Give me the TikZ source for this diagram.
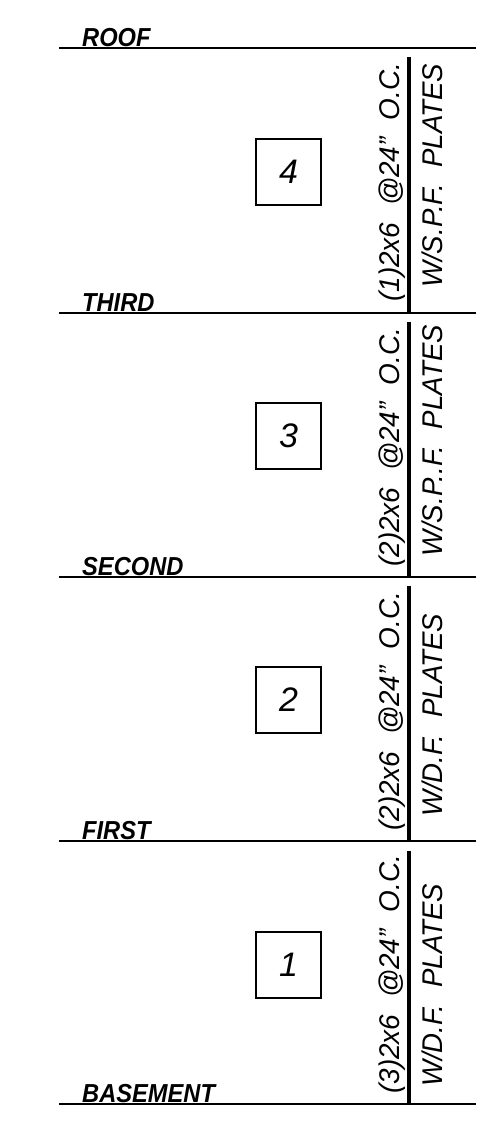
\documentclass[tikz,border=0pt]{standalone}
\usepackage{fontspec}
\setmainfont{Liberation Sans}
\begin{document}
\begin{tikzpicture}[x=1pt,y=-1pt,
  floorline/.style={line width=1.5pt},
  floorlabel/.style={anchor=base west,inner sep=0pt,font=\fontsize{26}{26}\selectfont\bfseries\itshape},
  stud/.style={line width=4pt},
  spectext/.style={anchor=base west,inner sep=0pt,rotate=90,font=\fontsize{28.5}{28.5}\selectfont\itshape},
  numbox/.style={draw,line width=2pt,minimum width=65pt,minimum height=66pt,inner sep=0pt,font=\fontsize{34}{34}\selectfont\itshape}]
\useasboundingbox (0,0) rectangle (486,1130);
% floor lines
\foreach \n/\y in {roof/48,third/313,second/577,first/841,basement/1104}{
  \coordinate (\n L) at (59,\y);
  \coordinate (\n R) at (476,\y);
  \draw[floorline] (\n L) -- (\n R);
}
\node[floorlabel] (lroof) at (82,46) {\scalebox{0.91}[1]{ROOF}};
\node[floorlabel] (lthird) at (82,311) {\scalebox{0.91}[1]{THIRD}};
\node[floorlabel] (lsecond) at (82,575) {\scalebox{0.91}[1]{SECOND}};
\node[floorlabel] (lfirst) at (82,839) {\scalebox{0.91}[1]{FIRST}};
\node[floorlabel] (lbasement) at (82,1102) {\scalebox{0.91}[1]{BASEMENT}};
% studs
\foreach \n/\a/\b in {s4/57/313,s3/322/577,s2/586/841,s1/851/1104}{
  \coordinate (\n t) at (409,\a);
  \coordinate (\n b) at (409,\b);
  \draw[stud] (\n t) -- (\n b);
}
% boxes
\node[numbox] (b4) at (288.5,172) {4};
\node[numbox] (b3) at (288.5,436) {3};
\node[numbox] (b2) at (288.5,700) {2};
\node[numbox] (b1) at (288.5,964.5) {1};
% left texts
\node[spectext] (t4) at (399,302) {\scalebox{0.98}[1]{(1)2x6\hspace{0.6em}@24”\hspace{0.6em}O.C.}};
\node[spectext] (t3) at (399,567) {\scalebox{0.98}[1]{(2)2x6\hspace{0.6em}@24”\hspace{0.6em}O.C.}};
\node[spectext] (t2) at (399,831) {\scalebox{0.98}[1]{(2)2x6\hspace{0.6em}@24”\hspace{0.6em}O.C.}};
\node[spectext] (t1) at (399,1094) {\scalebox{0.98}[1]{(3)2x6\hspace{0.6em}@24”\hspace{0.6em}O.C.}};
% right texts
\node[spectext] (r4) at (442,288) {\scalebox{0.97}[1]{W/S.P.F.\hspace{0.6em}PLATES}};
\node[spectext] (r3) at (442,557) {\scalebox{0.97}[1]{W/S.P..F.\hspace{0.6em}PLATES}};
\node[spectext] (r2) at (442,817) {\scalebox{0.97}[1]{W/D.F.\hspace{0.6em}PLATES}};
\node[spectext] (r1) at (442,1087) {\scalebox{0.97}[1]{W/D.F.\hspace{0.6em}PLATES}};
\end{tikzpicture}
\end{document}
